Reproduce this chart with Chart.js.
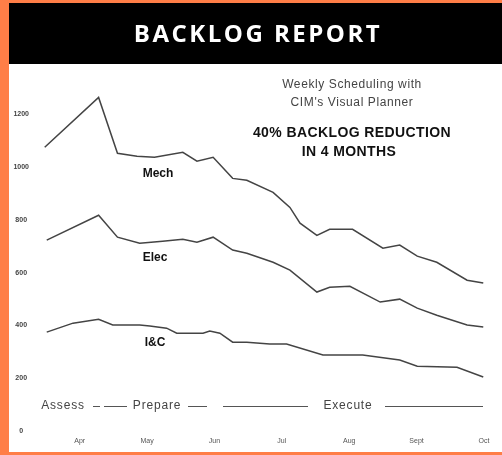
<!DOCTYPE html>
<html>
<head>
<meta charset="utf-8">
<script src="https://cdn.jsdelivr.net/npm/chart.js@4.4.0/dist/chart.umd.min.js"></script>
<style>
    html, body { margin: 0; padding: 0; background: #FF7E47; overflow: hidden; }
    #backlog { display: block; }
</style>
</head>
<body>
<canvas id="backlog" width="502" height="455"></canvas>
<script>
// Month positions on the x axis (4 = Apr ... 10 = Oct)
var monthTicks = [4, 5, 6, 7, 8, 9, 10];
var monthLabels = ["Apr", "May", "Jun", "Jul", "Aug", "Sept", "Oct"];
var yTicks = [0, 200, 400, 600, 800, 1000, 1200];

// Mech backlog
var mechMonths = [3.48, 4.28, 4.56, 4.85, 5.11, 5.53, 5.74, 5.98, 6.27, 6.48, 6.87, 7.12, 7.27, 7.52, 7.71, 8.05, 8.50, 8.75, 9.01, 9.30, 9.75, 9.99];
var mechValues = [1076, 1265, 1053, 1042, 1038, 1057, 1023, 1038, 958, 951, 905, 848, 788, 742, 765, 765, 693, 705, 663, 640, 572, 561];

// Elec backlog
var elecMonths = [3.51, 4.28, 4.56, 4.89, 5.23, 5.53, 5.74, 5.98, 6.27, 6.48, 6.87, 7.12, 7.52, 7.71, 8.01, 8.46, 8.75, 9.01, 9.30, 9.75, 9.99];
var elecValues = [724, 818, 735, 712, 720, 727, 716, 735, 686, 674, 640, 610, 527, 545, 549, 489, 500, 466, 439, 402, 394];

// I&C backlog
var icMonths = [3.51, 3.90, 4.28, 4.49, 4.89, 5.04, 5.29, 5.44, 5.83, 5.93, 6.08, 6.27, 6.48, 6.82, 7.07, 7.61, 8.20, 8.75, 9.01, 9.60, 9.99];
var icValues = [375, 409, 424, 402, 402, 398, 390, 371, 371, 379, 371, 337, 337, 330, 330, 288, 288, 269, 246, 242, 205];

var seriesNames = ["Mech", "Elec", "I&C"];

function toPoints(xs, ys)
{
    var pts = [];
    for (var i = 0; i < xs.length; ++i)
    {
        pts.push({x: xs[i], y: ys[i]});
    }
    return pts;
}

function makeDataset(name, xs, ys)
{
    return {
        label: name,
        data: toPoints(xs, ys),
        borderColor: "#444444",
        borderWidth: 1.5,
        pointRadius: 0,
        tension: 0,
        fill: false
    };
}

// Draws the orange frame, black title bar and white panel behind the chart
var framePlugin = {
    id: "frame",
    beforeDraw: function(chart){
        var ctx = chart.ctx;
        ctx.save();
        ctx.fillStyle = "#FF7E47";
        ctx.fillRect(0, 0, chart.width, chart.height);
        ctx.fillStyle = "#000000";
        ctx.fillRect(9, 3, chart.width - 9, 61);
        ctx.fillStyle = "#ffffff";
        ctx.fillRect(9, 64, chart.width - 9, 388);
        ctx.restore();
    },
    afterDraw: function(chart){
        var ctx = chart.ctx;
        ctx.save();
        ctx.textAlign = "center";
        ctx.textBaseline = "middle";

        // title
        ctx.fillStyle = "#ffffff";
        ctx.font = "bold 24px 'Open Sans', sans-serif";
        ctx.letterSpacing = "2.5px";
        ctx.fillText("BACKLOG REPORT", 258, 35);

        // subtitle
        ctx.fillStyle = "#444444";
        ctx.font = "12px 'Liberation Sans', sans-serif";
        ctx.letterSpacing = "0.6px";
        ctx.fillText("Weekly Scheduling with", 352, 85);
        ctx.fillText("CIM's Visual Planner", 352, 103);
        ctx.fillStyle = "#111111";
        ctx.font = "bold 14px 'Liberation Sans', sans-serif";
        ctx.letterSpacing = "0.4px";
        ctx.fillText("40% BACKLOG REDUCTION", 352, 133);
        ctx.fillText("IN 4 MONTHS", 349, 152);

        // series names
        var labelPos = [[158, 174], [155, 258], [155, 343]];
        ctx.font = "bold 12px 'Liberation Sans', sans-serif";
        ctx.letterSpacing = "0px";
        for (var i = 0; i < seriesNames.length; ++i)
        {
            ctx.fillText(seriesNames[i], labelPos[i][0], labelPos[i][1]);
        }

        // phase annotation row
        var py = 406;
        ctx.fillStyle = "#444444";
        ctx.font = "12px 'Liberation Sans', sans-serif";
        ctx.letterSpacing = "0.8px";
        ctx.fillText("Assess", 63, py);
        ctx.fillText("Prepare", 157, py);
        ctx.fillText("Execute", 348, py);
        ctx.strokeStyle = "#555555";
        ctx.lineWidth = 1;
        var dashes = [[93, 100], [104, 127], [188, 207], [223, 308], [385, 483]];
        ctx.beginPath();
        for (var j = 0; j < dashes.length; ++j)
        {
            ctx.moveTo(dashes[j][0], py + 0.5);
            ctx.lineTo(dashes[j][1], py + 0.5);
        }
        ctx.stroke();
        ctx.restore();
    }
};

var ctx = document.getElementById("backlog").getContext("2d");
var chart = new Chart(ctx, {
    type: "line",
    data: {
        datasets: [
            makeDataset(seriesNames[0], mechMonths, mechValues),
            makeDataset(seriesNames[1], elecMonths, elecValues),
            makeDataset(seriesNames[2], icMonths, icValues)
        ]
    },
    options: {
        responsive: false,
        animation: false,
        layout: {
            padding: {left: 10, top: 75, right: 12, bottom: 0}
        },
        plugins: {
            legend: {display: false},
            tooltip: {enabled: false}
        },
        scales: {
            x: {
                type: "linear",
                min: 3.41,
                max: 10.09,
                grid: {display: false, tickLength: 0},
                border: {display: false},
                afterBuildTicks: function(scale){
                    scale.ticks = monthTicks.map(function(v){ return {value: v}; });
                },
                afterFit: function(scale){
                    scale.height = 24;
                },
                ticks: {
                    autoSkip: false,
                    maxRotation: 0,
                    padding: 6,
                    color: "#555555",
                    font: {size: 7, family: "'Liberation Sans', sans-serif"},
                    callback: function(value){
                        return monthLabels[monthTicks.indexOf(value)];
                    }
                }
            },
            y: {
                min: 0,
                max: 1350,
                grid: {display: false},
                border: {display: false},
                afterBuildTicks: function(scale){
                    scale.ticks = yTicks.map(function(v){ return {value: v}; });
                },
                afterFit: function(scale){
                    scale.width = 30;
                },
                ticks: {
                    autoSkip: false,
                    crossAlign: "center",
                    color: "#444444",
                    font: {size: 7, weight: "bold", family: "'Liberation Sans', sans-serif"},
                    callback: function(value){
                        return String(value);
                    }
                }
            }
        }
    },
    plugins: [framePlugin]
});
</script>
</body>
</html>
